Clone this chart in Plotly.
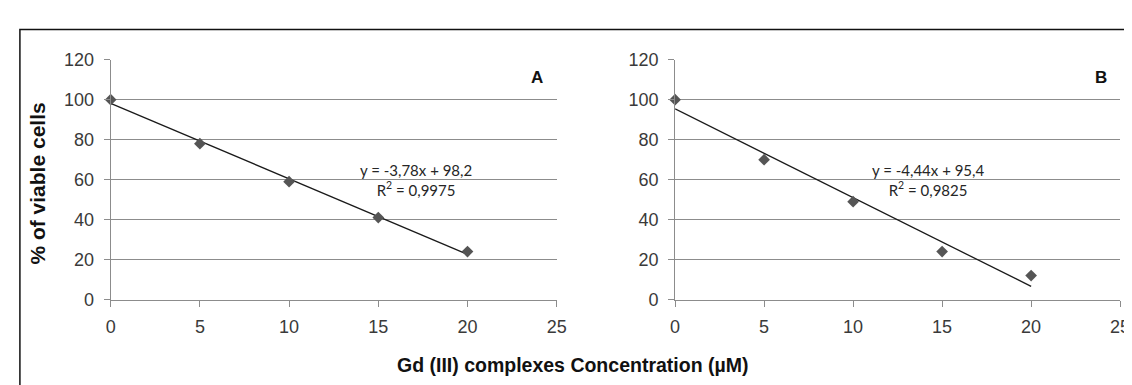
import numpy as np
import plotly.graph_objects as go

# Data
conc = [0, 5, 10, 15, 20]
viable_A = [100, 78, 59, 41, 24]
viable_B = [100, 70, 49, 24, 12]
panel_labels = ["A", "B"]
eq_A = "y = -3,78x + 98,2<br>R<sup>2</sup> = 0,9975"
eq_B = "y = -4,44x + 95,4<br>R<sup>2</sup> = 0,9825"
x_ticks = [0, 5, 10, 15, 20, 25]
y_ticks = [0, 20, 40, 60, 80, 100, 120]

W, H = 1132, 385
def px(x): return x / W
def py(y): return 1 - y / H

fig = go.Figure()

dom_x = {"A": [px(99), px(551)], "B": [px(671), px(1122)]}
dom_y = [py(297), py(44)]

marker_col = "#555555"
tick_font = dict(family="Liberation Sans, Arial", size=18, color="#3a3a3a")

eq_pos = [(17.1, 60), (14.2, 60)]
for i, (lab, yv, eq) in enumerate([("A", viable_A, eq_A), ("B", viable_B, eq_B)]):
    xa = "x" if i == 0 else "x2"
    ya = "y" if i == 0 else "y2"
    slope, intercept = np.polyfit(conc, yv, 1)
    xfit = np.array([conc[0], conc[-1]])
    fig.add_trace(go.Scatter(x=xfit, y=slope * xfit + intercept, mode="lines",
                             line=dict(color="#1a1a1a", width=1.3), xaxis=xa, yaxis=ya,
                             showlegend=False, cliponaxis=False, hoverinfo="skip"))
    fig.add_trace(go.Scatter(x=conc, y=yv, mode="markers",
                             marker=dict(symbol="diamond", size=9, color=marker_col),
                             xaxis=xa, yaxis=ya, showlegend=False, cliponaxis=False))
    fig.add_annotation(x=eq_pos[i][0], y=eq_pos[i][1], xref=xa, yref=ya, text=eq,
                       showarrow=False, align="center", xanchor="center", yanchor="middle",
                       font=dict(family="Lato, Carlito, Calibri", size=15, color="#262626"))
    fig.add_annotation(x=23.9, y=111, xref=xa, yref=ya, text="<b>%s</b>" % panel_labels[i],
                       showarrow=False, xanchor="center", yanchor="middle",
                       font=dict(family="Liberation Sans, Arial", size=17, color="#111111"))

axis_common = dict(showline=True, linecolor="#8c8c8c", linewidth=1, ticks="outside",
                   ticklen=6, tickcolor="#8c8c8c", tickfont=tick_font, zeroline=False)

fig.update_layout(
    width=W, height=H, margin=dict(l=0, r=0, t=0, b=0),
    paper_bgcolor="white", plot_bgcolor="white",
    xaxis=dict(domain=dom_x["A"], range=[0, 25], tickvals=x_ticks, showgrid=False,
               anchor="y", ticklabelstandoff=5, **axis_common),
    yaxis=dict(domain=dom_y, range=[0, 120], tickvals=y_ticks, showgrid=True,
               gridcolor="#8c8c8c", gridwidth=1, anchor="x", ticklabelstandoff=6, **axis_common),
    xaxis2=dict(domain=dom_x["B"], range=[0, 25], tickvals=x_ticks, showgrid=False,
                anchor="y2", ticklabelstandoff=5, **axis_common),
    yaxis2=dict(domain=dom_y, range=[0, 120], tickvals=y_ticks, showgrid=True,
                gridcolor="#8c8c8c", gridwidth=1, anchor="x2", ticklabelstandoff=6, **axis_common),
)

# axis titles
fig.add_annotation(x=px(25), y=py(175), xref="paper", yref="paper", text="<b>% of viable cells</b>",
                   textangle=-90, showarrow=False, xanchor="center", yanchor="middle",
                   font=dict(family="Liberation Sans, Arial", size=21, color="#111111"))
fig.add_annotation(x=px(567), y=py(366), xref="paper", yref="paper",
                   text="<b>Gd (III) complexes Concentration (µM)</b>", showarrow=False,
                   xanchor="center", yanchor="middle",
                   font=dict(family="Liberation Sans, Arial", size=19.5, color="#111111"))

# outer frame
fig.add_shape(type="rect", xref="paper", yref="paper", x0=px(7), x1=px(1140), y0=py(400), y1=py(12),
              line=dict(color="#111111", width=1.5), layer="above")

fig.write_html("out.html")
